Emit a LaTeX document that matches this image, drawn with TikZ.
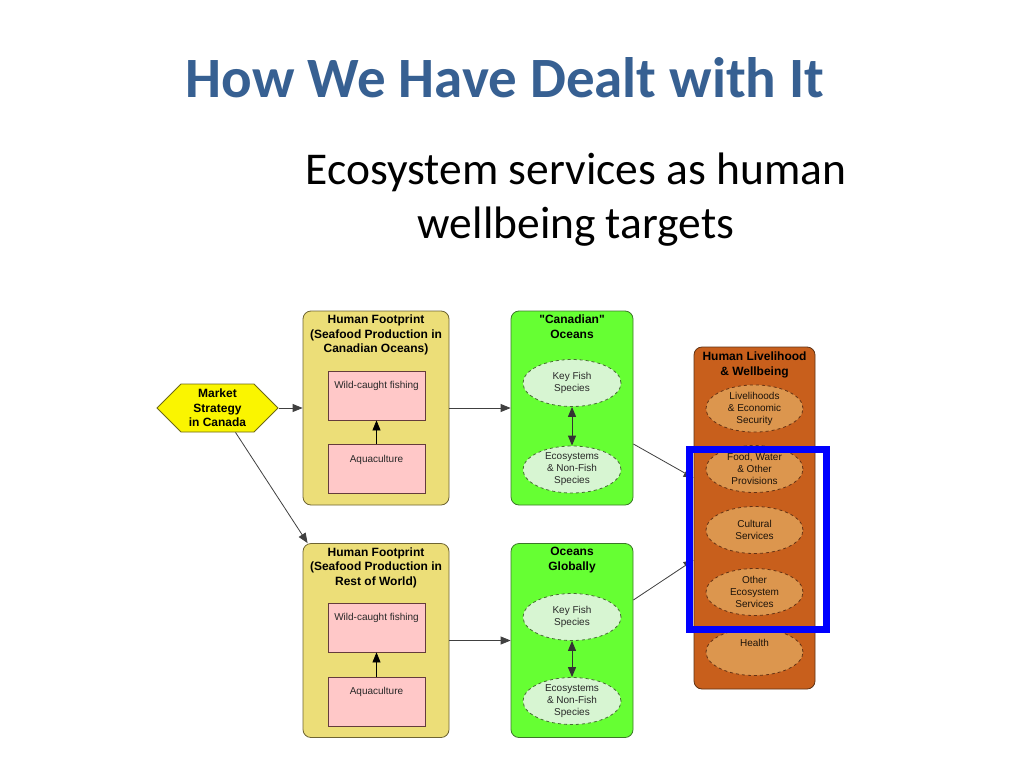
\documentclass[tikz,border=0pt]{standalone}
\usepackage{fontspec}
\setmainfont{Carlito}
\newfontfamily\arial{Liberation Sans}
\usetikzlibrary{shapes.geometric,shapes.symbols,arrows.meta}
\definecolor{titleblue}{RGB}{55,96,146}
\definecolor{hexfill}{RGB}{250,245,0}
\definecolor{hexline}{RGB}{110,105,20}
\definecolor{yfill}{RGB}{236,222,120}
\definecolor{yline}{RGB}{110,100,50}
\definecolor{pfill}{RGB}{255,200,200}
\definecolor{pline}{RGB}{100,60,60}
\definecolor{gfill}{RGB}{102,255,51}
\definecolor{gline}{RGB}{60,120,40}
\definecolor{gefill}{RGB}{215,245,210}
\definecolor{geline}{RGB}{70,110,50}
\definecolor{bfill}{RGB}{200,95,28}
\definecolor{bline}{RGB}{95,50,20}
\definecolor{befill}{RGB}{220,150,78}
\definecolor{beline}{RGB}{100,50,20}
\definecolor{contxt}{RGB}{40,40,40}
\tikzset{
  ttlfont/.style={font=\arial\bfseries\fontsize{12}{14.5}\selectfont},
  smallfont/.style={font=\arial\fontsize{10}{12}\selectfont},
  container/.style={rectangle, rounded corners=8pt, line width=0.8pt, inner sep=0pt},
  ybox/.style={container, draw=yline, fill=yfill, minimum width=146, minimum height=194},
  gbox/.style={container, draw=gline, fill=gfill, minimum width=122, minimum height=194},
  bbox/.style={container, draw=bline, fill=bfill, minimum width=121, minimum height=342},
  ttl/.style={anchor=north, ttlfont, align=center, inner sep=1pt, text=black, yshift=-3pt},
  pinkbox/.style={rectangle, draw=pline, fill=pfill, line width=0.8pt, minimum width=97,
     minimum height=49, text height=10pt, text depth=24pt, inner ysep=7.5pt, inner xsep=0pt,
     smallfont, text=contxt},
  gell/.style={ellipse, draw=geline, dashed, fill=gefill, line width=0.8pt, minimum width=98,
     minimum height=47, inner sep=0pt, align=center, smallfont, text=contxt},
  bell/.style={ellipse, draw=beline, dashed, fill=befill, line width=0.8pt, minimum width=97,
     minimum height=47, inner sep=0pt, align=center, smallfont, text=black!85!brown},
  arr/.style={draw=black!75, line width=0.8pt, -{Triangle[length=10pt,width=8pt]}},
  darr/.style={draw=black!80, line width=1pt, {Triangle[length=10pt,width=8pt]}-{Triangle[length=10pt,width=8pt]}}
}
\begin{document}
\begin{tikzpicture}[x=1pt,y=-1pt]
\useasboundingbox[fill=white] (0,0) rectangle (1024,768);

% titles
\node[anchor=base, text=titleblue, font=\bfseries\fontsize{57}{68}\selectfont, inner sep=0pt]
  (title) at (505,97) {How We Have Dealt with It};
\node[align=center, font=\fontsize{45.5}{54}\selectfont, inner sep=0pt]
  (subtitle) at (576,200) {Ecosystem services as human\\wellbeing targets};

% market strategy hexagon
\node[signal, signal to=west and east, draw=hexline, fill=hexfill, line width=0.8pt,
  minimum width=121, minimum height=48, inner sep=0pt, align=center, ttlfont]
  (hex) at (217.5,408) {Market\\Strategy\\in Canada};

% yellow containers
\node[ybox, label={[ttl]north:{Human Footprint\\(Seafood Production in\\Canadian Oceans)}}]
  (yt) at (376,408) {};
\node[ybox, label={[ttl]north:{Human Footprint\\(Seafood Production in\\Rest of World)}}]
  (yb) at (376,640.5) {};
\node[pinkbox] (ytw) at (376.5,395.5) {Wild-caught fishing};
\node[pinkbox] (yta) at (376.5,469) {Aquaculture};
\node[pinkbox] (ybw) at (376.5,627.5) {Wild-caught fishing};
\node[pinkbox] (yba) at (376.5,701.5) {Aquaculture};
\draw[arr, draw=black] (yta) -- (ytw);
\draw[arr, draw=black] (yba) -- (ybw);

% green containers
\node[gbox, label={[ttl]north:{"Canadian"\\Oceans}}] (gt) at (572,408) {};
\node[gbox, label={[ttl]north:{Oceans\\Globally}}] (gb) at (572,640.5) {};
\node[gell] (gtk) at (572,383) {Key Fish\\Species};
\node[gell] (gte) at (572,469.5) {Ecosystems\\\& Non-Fish\\Species};
\node[gell] (gbk) at (572,617) {Key Fish\\Species};
\node[gell] (gbe) at (572,701) {Ecosystems\\\& Non-Fish\\Species};
\draw[darr] (gtk) -- (gte);
\draw[darr] (gbk) -- (gbe);

% brown container
\node[bbox, label={[ttl, yshift=-1pt]north:{Human Livelihood\\\& Wellbeing}}] (br) at (754.5,518) {};
\node[bell] (bl) at (754.5,408.5) {Livelihoods\\\& Economic\\Security};
\node[bell] (bf) at (754.5,469) {Food, Water\\\& Other\\Provisions};
\node[bell] (bc) at (754.5,530) {Cultural\\Services};
\node[bell] (bo) at (754.5,592) {Other\\Ecosystem\\Services};
\node[bell] (bh) at (754.5,652) {Health\\[6pt]\mbox{}};

% connectors
\draw[arr] (hex.east) -- (yt.west);
\draw[arr] ([xshift=18pt]hex.south) -- ([xshift=5pt]yb.north west);
\draw[arr] (yt.east) -- (gt.west);
\draw[arr] (yb.east) -- (gb.west);
\draw[arr] ([yshift=-36pt]gt.east) -- ([yshift=40pt]br.west);
\draw[arr] ([yshift=40.5pt]gb.east) -- ([yshift=-42pt]br.west);

% highlight
\draw[draw=blue, line width=7pt] (689.5,449.5) rectangle (826.5,629.5);
\end{tikzpicture}
\end{document}
